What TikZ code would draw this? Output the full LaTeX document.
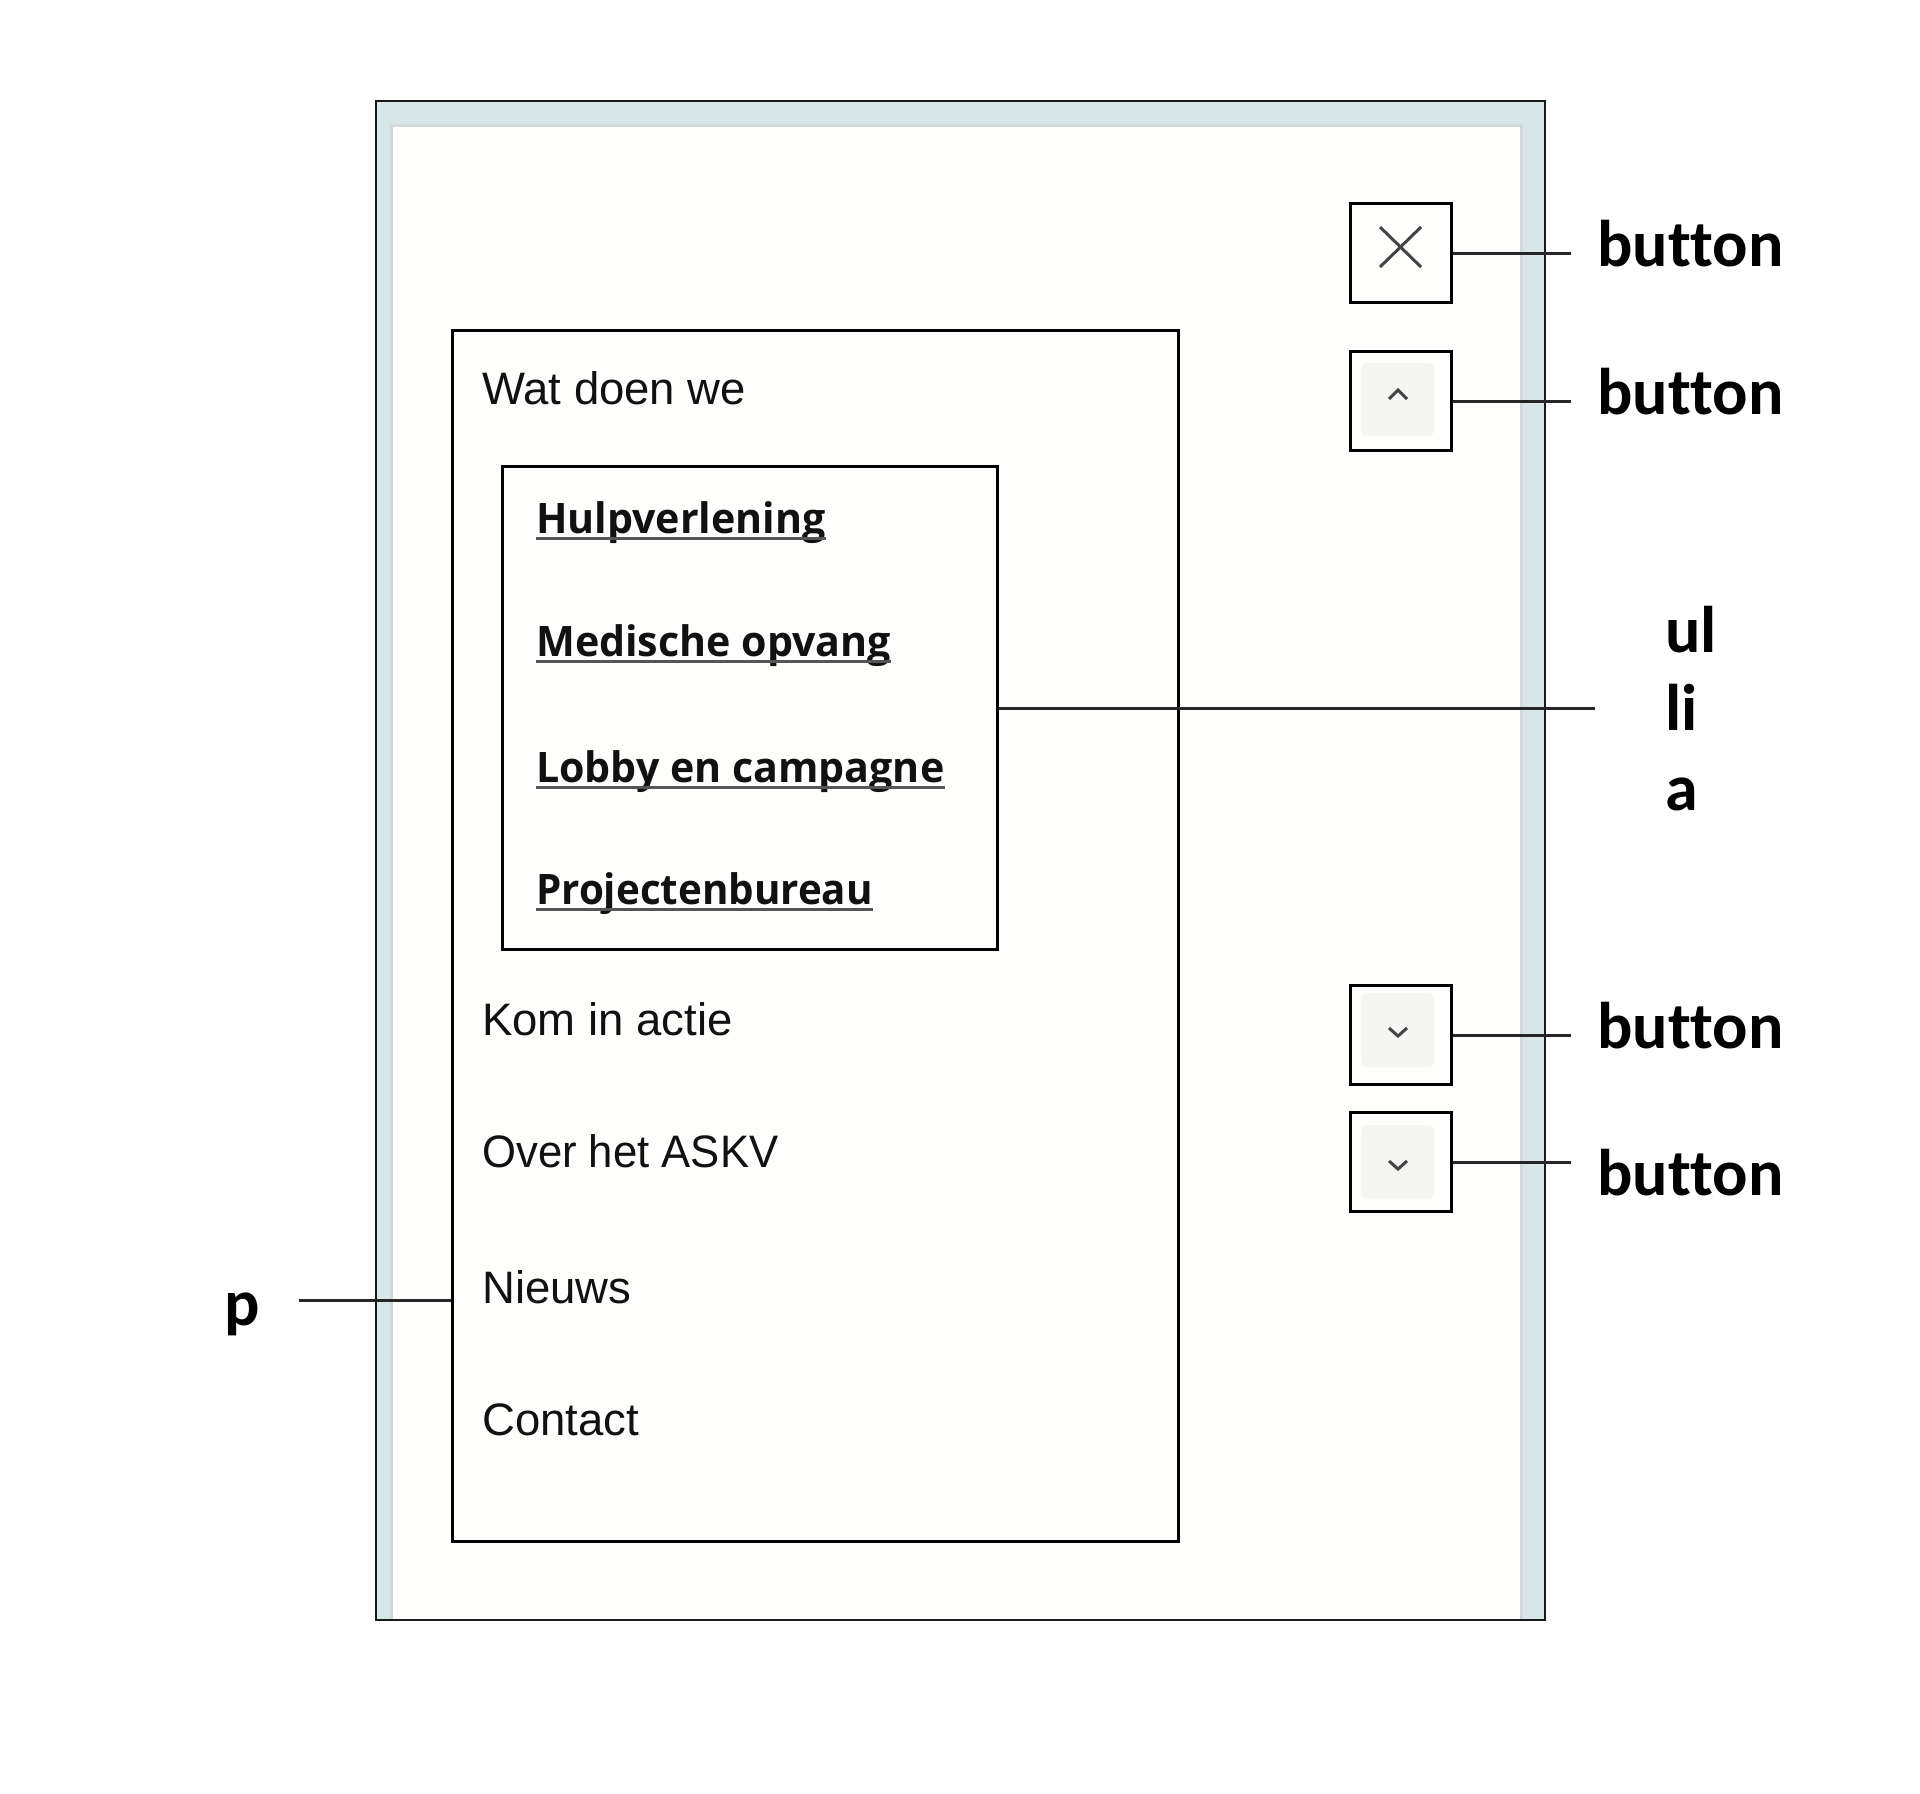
\documentclass[tikz,border=0pt]{standalone}
\usepackage{fontspec}
\usepackage{graphicx}
\newfontfamily\navfont{Liberation Sans}
\newfontfamily\linkfont{Open Sans}
\newfontfamily\lblfont{Carlito}[RawFeature={-liga;-dlig;-clig}]
\definecolor{band}{HTML}{D8E6E8}
\definecolor{bandedge}{HTML}{D3D8DA}
\definecolor{paper}{HTML}{FEFEFC}
\definecolor{btnfill}{HTML}{F5F5F3}
\definecolor{ink}{HTML}{111111}
\definecolor{uline}{HTML}{555555}
\definecolor{glyph}{HTML}{444444}
\tikzset{
  navtext/.style={anchor=base west, inner sep=0pt, text=ink, font=\navfont\fontsize{45.5}{50}\selectfont},
  linktext/.style={anchor=base west, inner sep=0pt, text=ink, font=\linkfont\bfseries\fontsize{42}{46}\selectfont},
  lbltext/.style={anchor=base west, inner sep=0pt, text=black, font=\lblfont\bfseries\fontsize{66}{72}\selectfont},
  boxnode/.style={draw=black, line width=3pt, inner sep=0pt, anchor=north west},
  btnbox/.style={draw=black, line width=3pt, fill=paper, inner sep=0pt, anchor=north west, minimum width=101pt, minimum height=99pt},
  leader/.style={draw=black!85, line width=3pt},
  glyphline/.style={draw=glyph, line width=3pt, line join=miter},
  underl/.style={draw=uline, line width=3pt},
}
\begin{document}
\begin{tikzpicture}[x=1pt,y=-1pt]
\useasboundingbox (0,0) rectangle (1920,1794);
\fill[white] (0,0) rectangle (1920,1794);
% window frame
\fill[band] (376,101) rectangle (1545,1620);
\fill[bandedge] (390,124) rectangle (1523,1620);
\fill[paper] (393,127) rectangle (1520,1620);
\draw[black!90, line width=1.5pt] (376,101) rectangle (1545,1620);
% nav box and ul box
\node[boxnode, minimum width=726pt, minimum height=1211pt] (nav) at (451,329) {};
\node[boxnode, minimum width=495pt, minimum height=483pt] (ul) at (501,465) {};
% nav texts
\node[navtext] (t1) at (482,404) {Wat doen we};
\node[navtext] (t2) at (482,1035) {Kom in actie};
\node[navtext] (t3) at (482,1167) {\scalebox{0.96}[1]{Over het ASKV}};
\node[navtext] (t4) at (482,1303) {Nieuws};
\node[navtext] (t5) at (482,1435) {Contact};
% links
\node[linktext] (l1) at (536,533) {\scalebox{0.98}[1]{Hulpverlening}};
\node[linktext] (l2) at (536,656) {\scalebox{0.98}[1]{Medische opvang}};
\node[linktext] (l3) at (536,782) {\scalebox{0.98}[1]{Lobby en campagne}};
\node[linktext] (l4) at (536,904) {\scalebox{0.96}[1]{Projectenbureau}};
\foreach \l in {l1,l2,l3,l4}{
  \draw[underl] ([yshift=-5pt]\l.base west) -- ([yshift=-5pt]\l.base east);
}
% buttons
\node[btnbox] (bclose) at (1349,202) {};
\node[btnbox] (bup) at (1349,350) {};
\node[btnbox] (bdown1) at (1349,984) {};
\node[btnbox] (bdown2) at (1349,1111) {};
\fill[btnfill, rounded corners=6pt] (1361,363) rectangle (1434,436);
\fill[btnfill, rounded corners=6pt] (1361,993) rectangle (1434,1067);
\fill[btnfill, rounded corners=6pt] (1361,1125) rectangle (1434,1199);
\draw[glyphline] (1380,227) -- (1421,267);
\draw[glyphline] (1380,267) -- (1421,227);
\draw[glyphline] (1389,399) -- (1398,390) -- (1407,399);
\draw[glyphline] (1389,1028) -- (1398,1036) -- (1407,1028);
\draw[glyphline] (1389,1161) -- (1398,1169) -- (1407,1161);
% leader end points
\coordinate (e1) at (1571,252);
\coordinate (e2) at (1571,399);
\coordinate (e3) at (1571,1033);
\coordinate (e4) at (1571,1160);
\coordinate (eul) at (1595,707);
\coordinate (ep) at (299,1300);
\draw[leader] (bclose.east) -- (bclose.east -| e1);
\draw[leader] (bup.east) -- (bup.east -| e2);
\draw[leader] (bdown1.east) -- (bdown1.east -| e3);
\draw[leader] (bdown2.east) -- (bdown2.east -| e4);
\draw[leader] (ul.east) -- (ul.east -| eul);
\draw[leader] (ep) -- (ep -| nav.west);
% labels
\node[lbltext] (lb1) at (1597,266) {button};
\node[lbltext] (lb2) at (1597,414) {button};
\node[lbltext] (lb3) at (1597,1048) {button};
\node[lbltext] (lb4) at (1597,1195) {button};
\node[lbltext] (lul) at (1665,652) {ul};
\node[lbltext] (lli) at (1665,730) {li};
\node[lbltext] (la) at (1665,810) {a};
\node[lbltext] (lp) at (224,1325) {p};
\end{tikzpicture}
\end{document}
